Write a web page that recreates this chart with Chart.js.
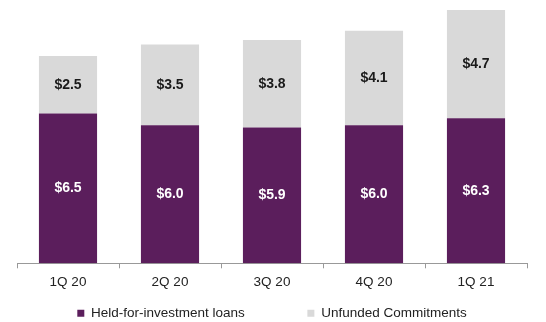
<!DOCTYPE html>
<html>
<head>
<meta charset="utf-8">
<script src="https://cdn.jsdelivr.net/npm/chart.js@4/dist/chart.umd.min.js"></script>
<style>
  html, body { margin: 0; padding: 0; background: #fff; }
  #wrap { width: 546px; height: 322px; }
</style>
</head>
<body>
<div id="wrap"><canvas id="c"></canvas></div>
<script>
const quarters = ['1Q 20', '2Q 20', '3Q 20', '4Q 20', '1Q 21'];
const heldLoans = [6.5, 6.0, 5.9, 6.0, 6.3];
const unfunded = [2.5, 3.5, 3.8, 4.1, 4.7];

const FONT = '"Liberation Sans", Arial, sans-serif';

// writes "$x.x" inside each bar segment
const segmentLabels = {
  id: 'segmentLabels',
  afterDatasetsDraw(chart) {
    const ctx = chart.ctx;
    ctx.save();
    ctx.font = 'bold 14px ' + FONT;
    ctx.textAlign = 'center';
    ctx.textBaseline = 'middle';
    chart.data.datasets.forEach((ds, i) => {
      const meta = chart.getDatasetMeta(i);
      ctx.fillStyle = i === 0 ? '#ffffff' : '#1a1a1a';
      meta.data.forEach((bar, j) => {
        const mid = (bar.y + bar.base) / 2;
        ctx.fillText('$' + ds.data[j].toFixed(1), bar.x, mid);
      });
    });
    ctx.restore();
  }
};

new Chart(document.getElementById('c').getContext('2d'), {
  type: 'bar',
  data: {
    labels: quarters,
    datasets: [
      {
        label: 'Held-for-investment loans',
        data: heldLoans,
        backgroundColor: '#5b1e5c'
      },
      {
        label: 'Unfunded Commitments',
        data: unfunded,
        backgroundColor: '#d9d9d9'
      }
    ]
  },
  options: {
    responsive: true,
    maintainAspectRatio: false,
    animation: false,
    layout: { padding: { left: 17, right: 19, top: 10, bottom: -8 } },
    datasets: { bar: { categoryPercentage: 0.57, barPercentage: 1.0 } },
    scales: {
      x: {
        stacked: true,
        border: { display: true, color: '#999999', width: 1 },
        grid: { display: true, drawOnChartArea: false, drawTicks: true, tickLength: 5, color: '#999999' },
        ticks: { color: '#222222', font: { family: FONT, size: 13.5 }, padding: 6 }
      },
      y: {
        stacked: true,
        display: false,
        min: 0,
        max: 11
      }
    },
    plugins: {
      legend: {
        position: 'bottom',
        labels: {
          boxWidth: 7,
          boxHeight: 7,
          padding: 10,
          color: '#222222',
          font: { family: FONT, size: 13.5 },
          generateLabels(chart) {
            const items = Chart.defaults.plugins.legend.labels.generateLabels(chart);
            // widen the gap between the two entries
            items[0].text = items[0].text + '              ';
            items.forEach(it => { it.lineWidth = 0; });
            return items;
          }
        }
      },
      tooltip: { enabled: false }
    }
  },
  plugins: [segmentLabels]
});
</script>
</body>
</html>
